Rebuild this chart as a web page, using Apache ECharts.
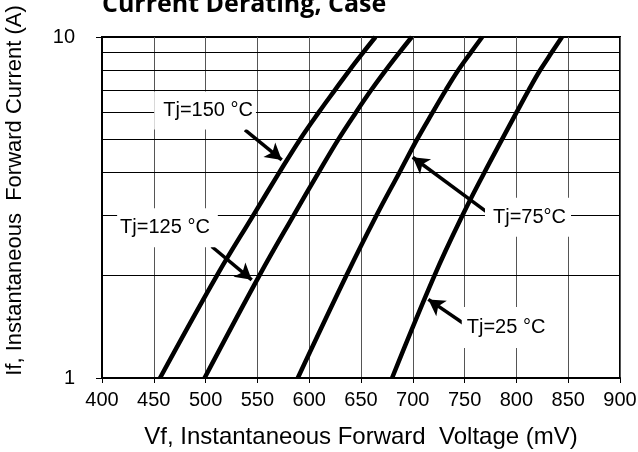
<!DOCTYPE html>
<html>
<head>
<meta charset="utf-8">
<script src="https://cdn.jsdelivr.net/npm/echarts@6/dist/echarts.min.js"></script>
<style>
  html, body { margin: 0; padding: 0; background: #fff; }
  #chart { width: 638px; height: 452px; }
</style>
</head>
<body>
<div id="chart"></div>
<script type="text/javascript">
    // forward current (A) and forward voltage (mV)
    var currents = [1, 2, 3, 4, 5, 6, 7, 8, 9, 10];
    var vf150 = [456, 511, 546, 571, 591, 609, 625, 639, 652, 664];
    var vf125 = [499, 552, 585, 609, 628, 645, 660, 674, 687, 699];
    var vf75 = [589, 636, 665, 687, 704, 719, 732, 744, 756, 767];
    var vf25 = [680, 721, 748, 769, 786, 800, 812, 823, 834, 844];
    var gridCurrents = [2, 3, 4, 5, 6, 7, 8, 9];
    var curveNames = ['Tj=150 °C', 'Tj=125 °C', 'Tj=75°C', 'Tj=25 °C'];

    var font = 'Liberation Sans, Arial, sans-serif';

    function pairs(vs) {
        return vs.map(function (v, i) { return [v, currents[i]]; });
    }

    function curve(name, vs) {
        return {
            name: name,
            type: 'line',
            z: 3,
            smooth: 0.4,
            showSymbol: false,
            silent: true,
            lineStyle: { color: '#000', width: 4.5 },
            data: pairs(vs)
        };
    }

    function tag(text, coord, pad) {
        return {
            coord: coord,
            label: { formatter: text, padding: pad }
        };
    }

    function arrow(from, to) {
        return [{ coord: from }, { coord: to }];
    }

    var chart = echarts.init(document.getElementById('chart'));
    chart.setOption({
        animation: false,
        title: {
            text: 'Current Derating, Case',
            left: 97,
            top: -13,
            textStyle: { fontFamily: 'Open Sans', fontWeight: 'bold', fontSize: 25, color: '#000' }
        },
        grid: {
            left: 102, right: 18, top: 37, bottom: 74,
            outerBoundsMode: 'none',
            show: true, borderColor: '#000', borderWidth: 2
        },
        xAxis: {
            type: 'value',
            min: 400, max: 900, interval: 50,
            name: 'Vf, Instantaneous Forward  Voltage (mV)',
            nameLocation: 'middle',
            nameGap: 47,
            nameTextStyle: { fontFamily: font, fontSize: 24, color: '#000' },
            axisLine: { lineStyle: { color: '#000', width: 2 } },
            axisTick: { length: 5, lineStyle: { color: '#000' } },
            axisLabel: { fontFamily: font, fontSize: 20, color: '#000', margin: 12 },
            splitLine: { show: true, lineStyle: { color: '#555', width: 1 } }
        },
        yAxis: {
            type: 'log', logBase: 10,
            min: 1, max: 10,
            name: 'If, Instantaneous  Forward Current (A)',
            nameLocation: 'middle',
            nameGap: 76,
            nameTextStyle: { fontFamily: font, fontSize: 22, color: '#000', padding: [0, 0, 0, 34] },
            axisLine: { lineStyle: { color: '#000', width: 2 } },
            axisTick: { length: 6, lineStyle: { color: '#000' } },
            axisLabel: { fontFamily: font, fontSize: 20, color: '#000', margin: 27 },
            splitLine: { show: false }
        },
        series: [
            {
                name: 'grid',
                type: 'line',
                z: 1,
                data: [],
                markLine: {
                    silent: true,
                    symbol: ['none', 'none'],
                    label: { show: false },
                    lineStyle: { color: '#000', width: 1, type: 'solid' },
                    data: gridCurrents.map(function (c) { return { yAxis: c }; })
                }
            },
            curve(curveNames[0], vf150),
            curve(curveNames[1], vf125),
            curve(curveNames[2], vf75),
            curve(curveNames[3], vf25),
            {
                name: 'tags',
                type: 'line',
                z: 5,
                data: [],
                markPoint: {
                    silent: true,
                    symbol: 'rect',
                    symbolSize: 0,
                    itemStyle: { color: 'rgba(0,0,0,0)' },
                    label: {
                        show: true,
                        position: 'inside',
                        fontFamily: font,
                        fontSize: 20,
                        lineHeight: 23,
                        color: '#000',
                        backgroundColor: '#fff'
                    },
                    data: [
                        tag(curveNames[0], [499.5, 6.09], [8, 3, 7, 9]),
                        tag(curveNames[1], [463.2, 2.76], [5, 8, 11, 3]),
                        tag(curveNames[2], [811.2, 2.96], [3, 5, 13, 8]),
                        tag(curveNames[3], [790, 1.406], [3, 5, 15, 5])
                    ]
                }
            },
            {
                name: 'arrows',
                type: 'line',
                z: 6,
                data: [],
                markLine: {
                    silent: true,
                    symbol: ['none', 'arrow'],
                    symbolSize: [14, 16],
                    label: { show: false },
                    lineStyle: { color: '#000', width: 3.5, type: 'solid' },
                    itemStyle: { color: '#000' },
                    data: [
                        arrow([538, 5.34], [573.5, 4.36]),
                        arrow([505.9, 2.43], [544.5, 1.94]),
                        arrow([771.3, 3.07], [699.9, 4.44]),
                        arrow([748.7, 1.447], [715, 1.70])
                    ]
                }
            }
        ]
    });
</script>
</body>
</html>
